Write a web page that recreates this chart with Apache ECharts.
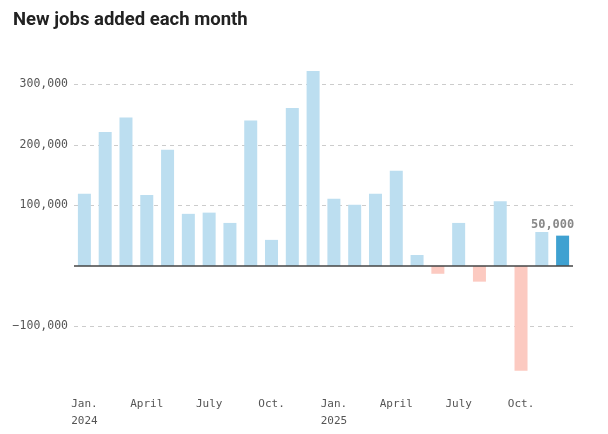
<!DOCTYPE html>
<html><head><meta charset="utf-8">
<script src="https://cdn.jsdelivr.net/npm/echarts@6/dist/echarts.min.js"></script>
<style>html,body{margin:0;padding:0;background:#fff}#c{width:608px;height:434px}</style>
</head><body><div id="c"></div>
<script>
const months = ['Jan.','Feb.','March','April','May','June','July','Aug.','Sept.','Oct.','Nov.','Dec.',
                'Jan.','Feb.','March','April','May','June','July','Aug.','Sept.','Oct.','Nov.','Dec.'];
const years = ['2024','','','','','','','','','','','','2025','','','','','','','','','','',''];
const labeledMonths = ['Jan.','April','July','Oct.'];
const jobs = [119000,221000,245000,117000,192000,86000,88000,71000,240000,43000,261000,322000,
              111000,101000,119000,157000,18000,-13000,71000,-26000,107000,-173000,56000,50000];
const yTicks = [-100000,100000,200000,300000];
const title = 'New jobs added each month';

const chart = echarts.init(document.getElementById('c'), null, {renderer:'canvas'});
const lastIdx = jobs.length - 1;
const fmt = v => (v < 0 ? '\u2212' : '') + Math.abs(v).toLocaleString('en-US');
const cats = months.map((m,i) => i + '|' + m + '|' + years[i]);

chart.setOption({
  animation:false,
  title:{text:title,left:8,top:6,textStyle:{fontFamily:'Roboto',fontWeight:'bold',fontSize:18.5,color:'#222'}},
  grid:{left:74,right:35,top:54,bottom:47},
  xAxis:{type:'category',data:cats,axisLine:{show:false,onZero:false},axisTick:{show:false},
    axisLabel:{interval:0,margin:9,lineHeight:17,fontFamily:'DejaVu Sans Mono',fontSize:11,color:'#555',
      formatter:v=>{const p=v.split('|');return labeledMonths.includes(p[1])?(p[2]?p[1]+'\n'+p[2]:p[1]):'';}}},
  yAxis:{type:'value',min:-200000,max:350000,interval:100000,
    axisLine:{show:false},axisTick:{show:false},
    axisLabel:{margin:6,fontFamily:'DejaVu Sans Mono',fontSize:11.5,color:'#555',
      formatter:v=>yTicks.includes(v)?fmt(v):''},
    splitLine:{lineStyle:{type:[4,4],width:1,color:['rgba(0,0,0,0)','#cccccc','rgba(0,0,0,0)','#cccccc','#cccccc','#cccccc','rgba(0,0,0,0)']}}},
  series:[{type:'bar',barWidth:13,
    data:jobs.map((v,i)=>({value:v,
      itemStyle:{color:i===lastIdx?'#3fa1d1':(v<0?'#fccac1':'#bcdef0')},
      label:i===lastIdx?{show:true,position:'top',offset:[-10,0],formatter:p=>fmt(p.value),
        fontFamily:'DejaVu Sans Mono',fontWeight:'bold',fontSize:12,color:'#888'}:{show:false}})),
    markLine:{silent:true,symbol:'none',label:{show:false},lineStyle:{color:'#444',type:'solid',width:1.5},
      data:[{yAxis:0}]}
  }]
});
</script></body></html>
